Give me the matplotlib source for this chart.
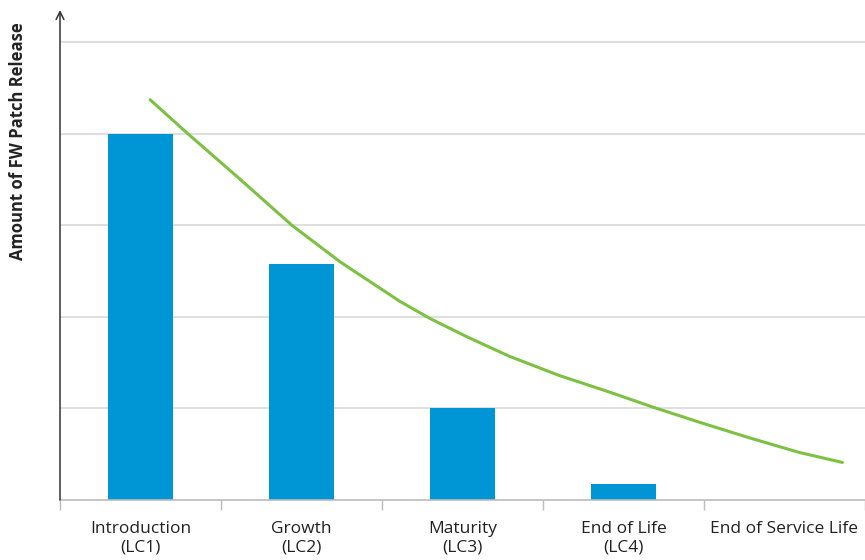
import matplotlib.pyplot as plt
import numpy as np

# bar data (lifecycle stages)
stages = ["Introduction\n(LC1)", "Growth\n(LC2)", "Maturity\n(LC3)",
          "End of Life\n(LC4)", "End of Service Life"]
patch_amount = [4.0, 2.58, 1.0, 0.18, 0.0]

# trend curve (x in category units)
trend_x = [0.06, 0.30, 0.62, 0.94, 1.24, 1.61, 1.80, 2.03, 2.29, 2.60,
           2.91, 3.19, 3.47, 3.78, 4.09, 4.36]
trend_y = [4.37, 3.99, 3.50, 3.00, 2.60, 2.17, 1.98, 1.78, 1.57, 1.36,
           1.18, 1.01, 0.85, 0.68, 0.52, 0.41]

plt.rcParams['font.family'] = ['Open Sans', 'DejaVu Sans']

fig = plt.figure(figsize=(8.65, 5.6), dpi=100)
ax = fig.add_axes([60 / 865, 60 / 560, 805 / 865, 490 / 560])

x = np.arange(len(stages))
ax.bar(x, patch_amount, width=0.4, color="#0096d6", zorder=2)
ax.plot(trend_x, trend_y, color="#7cc142", lw=2.2, zorder=3,
        solid_capstyle="round", solid_joinstyle="round")

ax.set_xlim(-0.5, 4.5)
ax.set_ylim(0, 5.35)
ax.set_yticks([1, 2, 3, 4, 5])
ax.set_yticklabels([])
ax.tick_params(axis="y", length=0)
ax.grid(axis="y", color="#dcdcdc", lw=1.3, zorder=0)

ax.set_xticks(x)
ax.set_xticklabels(stages, fontsize=12.5, color="#222222", linespacing=1.2)
ax.set_xticks(np.arange(-0.5, 4.6, 1), minor=True)
ax.tick_params(axis="x", which="major", length=0, pad=15)
ax.tick_params(axis="x", which="minor", length=7, color="#bbbbbb", width=1)

for side in ["top", "right", "left"]:
    ax.spines[side].set_visible(False)
ax.spines["bottom"].set_color("#bbbbbb")
ax.spines["bottom"].set_linewidth(1.2)

# y axis with arrow head
ax.annotate("", xy=(0, 1.0), xytext=(0, 0), xycoords="axes fraction",
            arrowprops=dict(arrowstyle="->", color="#333333", lw=1.1,
                            shrinkA=0, shrinkB=0, mutation_scale=14))

fig.text(18 / 865, 1 - 141 / 560, "Amount of FW Patch Release",
         rotation=90, ha="center", va="center", fontsize=12,
         fontweight="bold", color="#222222")

fig.savefig("out.png", dpi=100)
